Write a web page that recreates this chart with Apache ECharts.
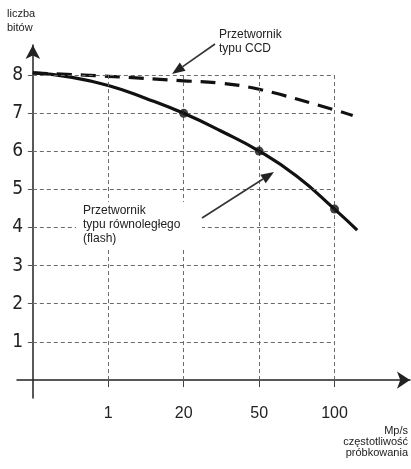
<!DOCTYPE html>
<html>
<head>
<meta charset="utf-8">
<script src="https://cdn.jsdelivr.net/npm/echarts@6/dist/echarts.min.js"></script>
<style>
html,body{margin:0;padding:0;background:#fff;}
#chart{width:411px;height:469px;}
</style>
</head>
<body>
<div id="chart"></div>
<script>
// ---- data ----
const xTickPositions = [1, 2, 3, 4];
const xTickLabels = ['1', '20', '50', '100'];
const yTickValues = [1, 2, 3, 4, 5, 6, 7, 8];
const gridXLines = [1, 2, 3, 4];
const gridYLines = [1, 2, 3, 4, 5, 6, 7, 8];

const flashX = [0, 0.5, 1, 1.5, 2, 2.5, 3, 3.5, 4, 4.3];
const flashY = [8.05, 7.94, 7.72, 7.38, 6.99, 6.52, 6.0, 5.34, 4.48, 3.93];

const ccdX = [0, 1, 2, 2.45, 3, 4, 4.24];
const ccdY = [8.05, 7.96, 7.84, 7.79, 7.62, 7.08, 6.93];

const markerX = [2, 3, 4];
const markerY = [6.99, 6.0, 4.48];

const labelFlash = 'Przetwornik\ntypu równoległego\n(flash)';
const labelCCD = 'Przetwornik\ntypu CCD';
const yName = 'liczba\nbitów';
const xName = 'Mp/s\nczęstotliwość\npróbkowania';

// ---- build ----
const zip = (xs, ys) => xs.map((x, i) => [x, ys[i]]);
const gridMarkLines = [];
gridYLines.forEach(v => gridMarkLines.push([{coord: [0, v]}, {coord: [4, v]}]));
gridXLines.forEach(v => gridMarkLines.push([{coord: [v, 0]}, {coord: [v, 8]}]));

const chart = echarts.init(document.getElementById('chart'), null, {renderer: 'canvas'});

function arrow(x1, y1, x2, y2, len, w) {
  const dx = x2 - x1, dy = y2 - y1, L = Math.hypot(dx, dy);
  const ux = dx / L, uy = dy / L;
  const bx = x2 - ux * len, by = y2 - uy * len;
  const nx = -uy, ny = ux;
  return [
    {type: 'line', z: 50, shape: {x1: x1, y1: y1, x2: bx, y2: by}, style: {stroke: '#333', lineWidth: 1.6}},
    {type: 'polygon', z: 50, shape: {points: [[x2, y2], [bx + nx * w / 2, by + ny * w / 2], [bx - nx * w / 2, by - ny * w / 2]]}, style: {fill: '#222'}}
  ];
}

const textFont = 'Liberation Sans, Arial, sans-serif';

const option = {
  backgroundColor: '#fff',
  animation: false,
  grid: {left: 17, right: 1, top: 45, bottom: 71, containLabel: false, outerBoundsMode: 'none'},
  xAxis: {
    type: 'value', min: -0.21, max: 5,
    axisLine: {show: true, onZero: true, symbol: ['none', 'arrow'], symbolSize: [13, 13], lineStyle: {color: '#222', width: 1.5}},
    axisTick: {show: true, inside: false, length: 7, customValues: xTickPositions, lineStyle: {color: '#444', width: 1}},
    axisLabel: {show: true, customValues: xTickPositions, margin: 8,
      formatter: v => xTickLabels[xTickPositions.indexOf(Math.round(v))] || '',
      fontFamily: textFont, fontSize: 16, color: '#222'},
    splitLine: {show: false}
  },
  yAxis: {
    type: 'value', min: -0.47, max: 8.78,
    axisLine: {show: true, onZero: true, symbol: ['none', 'arrow'], symbolSize: [11, 14], lineStyle: {color: '#222', width: 1.5}},
    axisTick: {show: true, inside: false, length: 5, customValues: yTickValues, lineStyle: {color: '#555', width: 1}},
    axisLabel: {show: true, customValues: yTickValues, margin: -6,
      fontFamily: 'Liberation Sans Narrow, DejaVu Sans Condensed, sans-serif', fontSize: 19, color: '#222'},
    splitLine: {show: false}
  },
  series: [
    {
      type: 'line', data: [], z: 1, silent: true,
      markLine: {
        silent: true, symbol: ['none', 'none'], animation: false,
        label: {show: false},
        lineStyle: {type: [4, 3], color: '#6a6a6a', width: 1},
        emphasis: {disabled: true},
        data: gridMarkLines
      }
    },
    {
      name: 'CCD', type: 'line', z: 3, smooth: 0.4, showSymbol: false, silent: true,
      data: zip(ccdX, ccdY),
      lineStyle: {color: '#111', width: 3.2, type: [15, 9]}
    },
    {
      name: 'flash', type: 'line', z: 4, smooth: 0.5, showSymbol: false, silent: true,
      data: zip(flashX, flashY),
      lineStyle: {color: '#111', width: 3.2}
    },
    {
      name: 'markers', type: 'scatter', z: 5, silent: true,
      data: zip(markerX, markerY),
      symbolSize: 9, itemStyle: {color: '#111'}
    }
  ],
  graphic: [
    {type: 'text', left: 7, top: 7, z: 50, style: {text: yName, font: '11px ' + textFont, fill: '#222', lineHeight: 14}},
    {type: 'text', right: 3, top: 425, z: 50, style: {text: xName, font: '11px ' + textFont, fill: '#222', lineHeight: 11, textAlign: 'right'}},
    {type: 'rect', z: 40, shape: {x: 76, y: 202, width: 126, height: 46}, style: {fill: '#fff'}},
    {type: 'text', left: 83, top: 204, z: 50, style: {text: labelFlash, font: '12px ' + textFont, fill: '#222', lineHeight: 14}},
    {type: 'text', left: 219, top: 28, z: 50, style: {text: labelCCD, font: '12px ' + textFont, fill: '#222', lineHeight: 14}},
    ...arrow(215, 44, 172, 74, 13, 10),
    ...arrow(202, 218, 274, 172, 13, 10)
  ]
};
chart.setOption(option);
</script>
</body>
</html>
